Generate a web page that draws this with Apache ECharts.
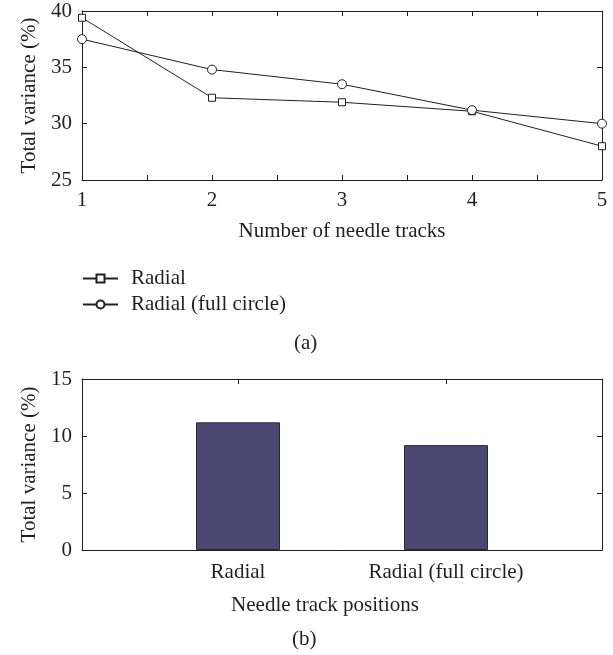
<!DOCTYPE html>
<html>
<head>
<meta charset="utf-8">
<script src="https://cdn.jsdelivr.net/npm/echarts@6/dist/echarts.min.js"></script>
<style>
  html, body { margin: 0; padding: 0; background: #fff; }
  #chart { width: 613px; height: 655px; }
</style>
</head>
<body>
<div id="chart"></div>
<script>
// (a) total variance versus number of needle tracks
const needleTracks = [1, 2, 3, 4, 5];
const radialVariance = [39.4, 32.3, 31.9, 31.1, 28.0];
const fullCircleVariance = [37.5, 34.8, 33.5, 31.2, 30.0];
const lineSeriesNames = ['Radial', 'Radial (full circle)'];

// (b) total variance per needle track position
const trackPositions = ['Radial', 'Radial (full circle)'];
const positionVariance = [11.2, 9.2];

const FONT = 'Liberation Serif';
const INK = '#231f20';
const text = { fontFamily: FONT, fontSize: 21, color: INK };
const axisLine = { show: true, onZero: false, lineStyle: { color: INK, width: 1 } };
const tickIn = { show: true, inside: true, length: 5, lineStyle: { color: INK, width: 1 } };

const positionIndex = trackPositions.map((_, i) => i + 1);

const chart = echarts.init(document.getElementById('chart'), null, { renderer: 'canvas' });

chart.setOption({
  animation: false,
  backgroundColor: '#fff',
  textStyle: text,
  grid: [
    { left: 82, top: 11, width: 520, height: 169 },
    { left: 82, top: 379, width: 520, height: 171 }
  ],
  legend: {
    data: lineSeriesNames,
    orient: 'vertical',
    left: 82,
    top: 268,
    padding: 0,
    itemWidth: 35,
    itemHeight: 10,
    itemGap: 5,
    textStyle: { fontFamily: FONT, fontSize: 21, color: INK, padding: [0, 0, 0, 8] }
  },
  xAxis: [
    {
      gridIndex: 0, type: 'value', position: 'bottom',
      min: 1, max: 5, interval: 0.5,
      axisLine, axisTick: tickIn, splitLine: { show: false },
      axisLabel: {
        ...text, margin: 10,
        formatter: v => (Number.isInteger(v) ? String(v) : '')
      },
      name: 'Number of needle tracks',
      nameLocation: 'middle', nameGap: 41,
      nameTextStyle: text
    },
    {
      gridIndex: 0, type: 'value', position: 'top',
      min: 1, max: 5, interval: 0.5,
      axisLine, axisTick: tickIn, splitLine: { show: false },
      axisLabel: { show: false }
    },
    {
      gridIndex: 1, type: 'value', position: 'bottom',
      min: 0.25, max: 2.75,
      axisLine,
      axisTick: { ...tickIn, customValues: positionIndex },
      splitLine: { show: false },
      axisLabel: {
        ...text, margin: 12,
        customValues: positionIndex,
        formatter: v => trackPositions[Math.round(v) - 1] || ''
      },
      name: 'Needle track positions',
      nameLocation: 'middle', nameGap: 45,
      nameTextStyle: { ...text, padding: [0, 34, 0, 0] }
    },
    {
      gridIndex: 1, type: 'value', position: 'top',
      min: 0.25, max: 2.75,
      axisLine,
      axisTick: { ...tickIn, customValues: positionIndex },
      splitLine: { show: false },
      axisLabel: { show: false }
    }
  ],
  yAxis: [
    {
      gridIndex: 0, type: 'value', position: 'left',
      min: 25, max: 40, interval: 5,
      axisLine, axisTick: tickIn, splitLine: { show: false },
      axisLabel: { ...text, margin: 10 },
      name: 'Total variance (%)',
      nameLocation: 'middle', nameRotate: 90, nameGap: 41,
      nameTextStyle: text
    },
    {
      gridIndex: 0, type: 'value', position: 'right',
      min: 25, max: 40, interval: 5,
      axisLine, axisTick: tickIn, splitLine: { show: false },
      axisLabel: { show: false }
    },
    {
      gridIndex: 1, type: 'value', position: 'left',
      min: 0, max: 15, interval: 5,
      axisLine, axisTick: tickIn, splitLine: { show: false },
      axisLabel: { ...text, margin: 10 },
      name: 'Total variance (%)',
      nameLocation: 'middle', nameRotate: 90, nameGap: 41,
      nameTextStyle: text
    },
    {
      gridIndex: 1, type: 'value', position: 'right',
      min: 0, max: 15, interval: 5,
      axisLine, axisTick: tickIn, splitLine: { show: false },
      axisLabel: { show: false }
    }
  ],
  series: [
    {
      name: lineSeriesNames[0],
      type: 'line',
      xAxisIndex: 0, yAxisIndex: 0,
      data: needleTracks.map((n, i) => [n, radialVariance[i]]),
      symbol: 'rect', symbolSize: 7,
      clip: false,
      lineStyle: { color: INK, width: 1 },
      itemStyle: { color: '#fff', borderColor: INK, borderWidth: 1 },
      z: 3
    },
    {
      name: lineSeriesNames[1],
      type: 'line',
      xAxisIndex: 0, yAxisIndex: 0,
      data: needleTracks.map((n, i) => [n, fullCircleVariance[i]]),
      symbol: 'circle', symbolSize: 9,
      clip: false,
      lineStyle: { color: INK, width: 1 },
      itemStyle: { color: '#fff', borderColor: INK, borderWidth: 1 },
      z: 3
    },
    {
      type: 'bar',
      xAxisIndex: 2, yAxisIndex: 2,
      data: positionIndex.map((x, i) => [x, positionVariance[i]]),
      barWidth: 84,
      itemStyle: { color: '#4d4873', borderColor: '#2a2a2a', borderWidth: 1 }
    }
  ],
  graphic: [
    { type: 'text', left: 294, top: 333, style: { text: '(a)', font: '21px "Liberation Serif"', fill: INK } },
    { type: 'text', left: 292, top: 629, style: { text: '(b)', font: '21px "Liberation Serif"', fill: INK } }
  ]
});
</script>
</body>
</html>
